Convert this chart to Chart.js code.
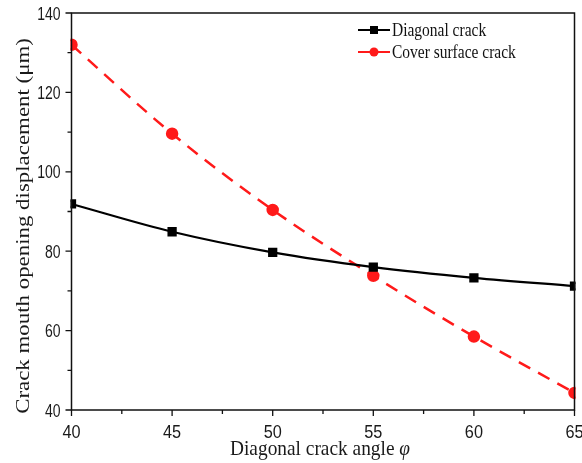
<!DOCTYPE html>
<html>
<head>
<meta charset="utf-8">
<script src="https://cdn.jsdelivr.net/npm/chart.js@4.4.0/dist/chart.umd.min.js"></script>
<style>
  html, body { margin: 0; padding: 0; background: #fff; }
  #wrap { width: 582px; height: 463px; }
</style>
</head>
<body>
<div id="wrap"><canvas id="cmod-chart" width="582" height="463"></canvas></div>
<script>
// crack angle (deg)
const angles = [40, 45, 50, 55, 60, 65];
// crack mouth opening displacement (μm)
const diagonalCrack = [91.9, 84.9, 79.7, 76.0, 73.3, 71.2];
const coverCrack = [132.0, 109.6, 90.4, 73.8, 58.5, 44.3];

const xTicks = [40, 45, 50, 55, 60, 65];
const yTicks = [40, 60, 80, 100, 120, 140];

const seriesNames = ['Diagonal crack', 'Cover surface crack'];

const SANS = '"Liberation Sans", Arial, sans-serif';
const SERIF = '"Liberation Serif", "Times New Roman", serif';

function toPoints(ys) {
    return angles.map((a, i) => ({ x: a, y: ys[i] }));
}

// 좁은 글꼴 흉내: 가로 방향으로 눌러서 그리기
function drawText(ctx, text, x, y, font, align, baseline, sx, sy, rot) {
    ctx.save();
    ctx.translate(x, y);
    if (rot) ctx.rotate(rot);
    ctx.scale(sx || 1, sy || 1);
    ctx.font = font;
    ctx.textAlign = align;
    ctx.textBaseline = baseline;
    ctx.fillText(text, 0, 0);
    ctx.restore();
}

// 축, 테두리, 눈금, 범례 그리기
const framePlugin = {
    id: 'frame',
    afterDraw(chart) {
        const ctx = chart.ctx;
        const area = chart.chartArea;
        const xs = chart.scales.x;
        const ys = chart.scales.y;

        ctx.save();
        ctx.strokeStyle = '#111';
        ctx.lineWidth = 1.5;
        ctx.strokeRect(area.left, area.top, area.right - area.left, area.bottom - area.top);

        // 주 눈금 + 보조 눈금 (바깥쪽)
        ctx.lineWidth = 1.3;
        ctx.beginPath();
        for (let v = 40; v <= 65; v += 2.5) {
            const px = xs.getPixelForValue(v);
            const len = (v % 5 === 0) ? 6 : 4;
            ctx.moveTo(px, area.bottom);
            ctx.lineTo(px, area.bottom + len);
        }
        for (let v = 40; v <= 140; v += 10) {
            const py = ys.getPixelForValue(v);
            const len = (v % 20 === 0) ? 6 : 4;
            ctx.moveTo(area.left, py);
            ctx.lineTo(area.left - len, py);
        }
        ctx.stroke();

        // 눈금 라벨
        ctx.fillStyle = '#1a1a1a';
        const tickFont = '17.5px ' + SANS;
        xTicks.forEach(v => {
            drawText(ctx, String(v), xs.getPixelForValue(v), 438, tickFont, 'center', 'alphabetic', 0.93);
        });
        yTicks.forEach(v => {
            drawText(ctx, String(v), area.left - 11, ys.getPixelForValue(v) + 6.5, tickFont, 'right', 'alphabetic', 0.8);
        });

        // x축 제목 (φ 이탤릭)
        const sxT = 0.88;
        const titleFont = '22px ' + SERIF;
        const italicFont = 'italic 22px ' + SERIF;
        const main = 'Diagonal crack angle ';
        ctx.font = titleFont;
        const w1 = ctx.measureText(main).width * sxT;
        const sx = 230;
        drawText(ctx, main, sx, 455, titleFont, 'left', 'alphabetic', sxT);
        drawText(ctx, 'φ', sx + w1, 455, italicFont, 'left', 'alphabetic', sxT);

        // y축 제목
        drawText(ctx, 'Crack mouth opening displacement (μm)', 29, 226,
            '22px ' + SERIF, 'center', 'alphabetic', 1.04, 0.84, -Math.PI / 2);

        // 범례
        const lx = 358, ly = 30, gap = 22;
        chart.data.datasets.forEach((ds, i) => {
            const y = ly + i * gap;
            ctx.strokeStyle = ds.borderColor;
            ctx.lineWidth = 2;
            ctx.setLineDash([]);
            ctx.beginPath();
            ctx.moveTo(lx, y);
            ctx.lineTo(lx + 32, y);
            ctx.stroke();
            ctx.fillStyle = ds.pointBackgroundColor;
            if (ds.pointStyle === 'rect') {
                ctx.fillRect(lx + 12, y - 4, 8, 8);
            } else {
                ctx.beginPath();
                ctx.arc(lx + 16, y, 4.5, 0, Math.PI * 2);
                ctx.fill();
            }
            ctx.fillStyle = '#111';
            drawText(ctx, ds.label, lx + 34, y + 1, '18px ' + SERIF, 'left', 'middle', 0.86);
        });
        ctx.restore();
    }
};

new Chart(document.getElementById('cmod-chart'), {
    type: 'line',
    data: {
        datasets: [{
            label: seriesNames[0],
            data: toPoints(diagonalCrack),
            borderColor: '#000',
            backgroundColor: '#000',
            pointBackgroundColor: '#000',
            pointBorderColor: '#000',
            pointStyle: 'rect',
            pointRadius: 5,
            borderWidth: 2.2,
            tension: 0.35,
            cubicInterpolationMode: 'monotone',
            clip: 1
        }, {
            label: seriesNames[1],
            data: toPoints(coverCrack),
            borderColor: '#ff1a1a',
            backgroundColor: '#ff1a1a',
            pointBackgroundColor: '#ff1a1a',
            pointBorderColor: '#ff1a1a',
            pointStyle: 'circle',
            pointRadius: 5,
            borderWidth: 2.5,
            borderDash: [13, 9],
            tension: 0.3,
            cubicInterpolationMode: 'monotone',
            clip: 1
        }]
    },
    options: {
        responsive: false,
        animation: false,
        devicePixelRatio: 1,
        layout: {
            padding: { left: 71.5, top: 13, right: 7, bottom: 53 }
        },
        plugins: {
            legend: { display: false },
            tooltip: { enabled: false }
        },
        scales: {
            x: {
                type: 'linear',
                min: 40,
                max: 65,
                display: false
            },
            y: {
                min: 40,
                max: 140,
                display: false
            }
        }
    },
    plugins: [framePlugin]
});
</script>
</body>
</html>
